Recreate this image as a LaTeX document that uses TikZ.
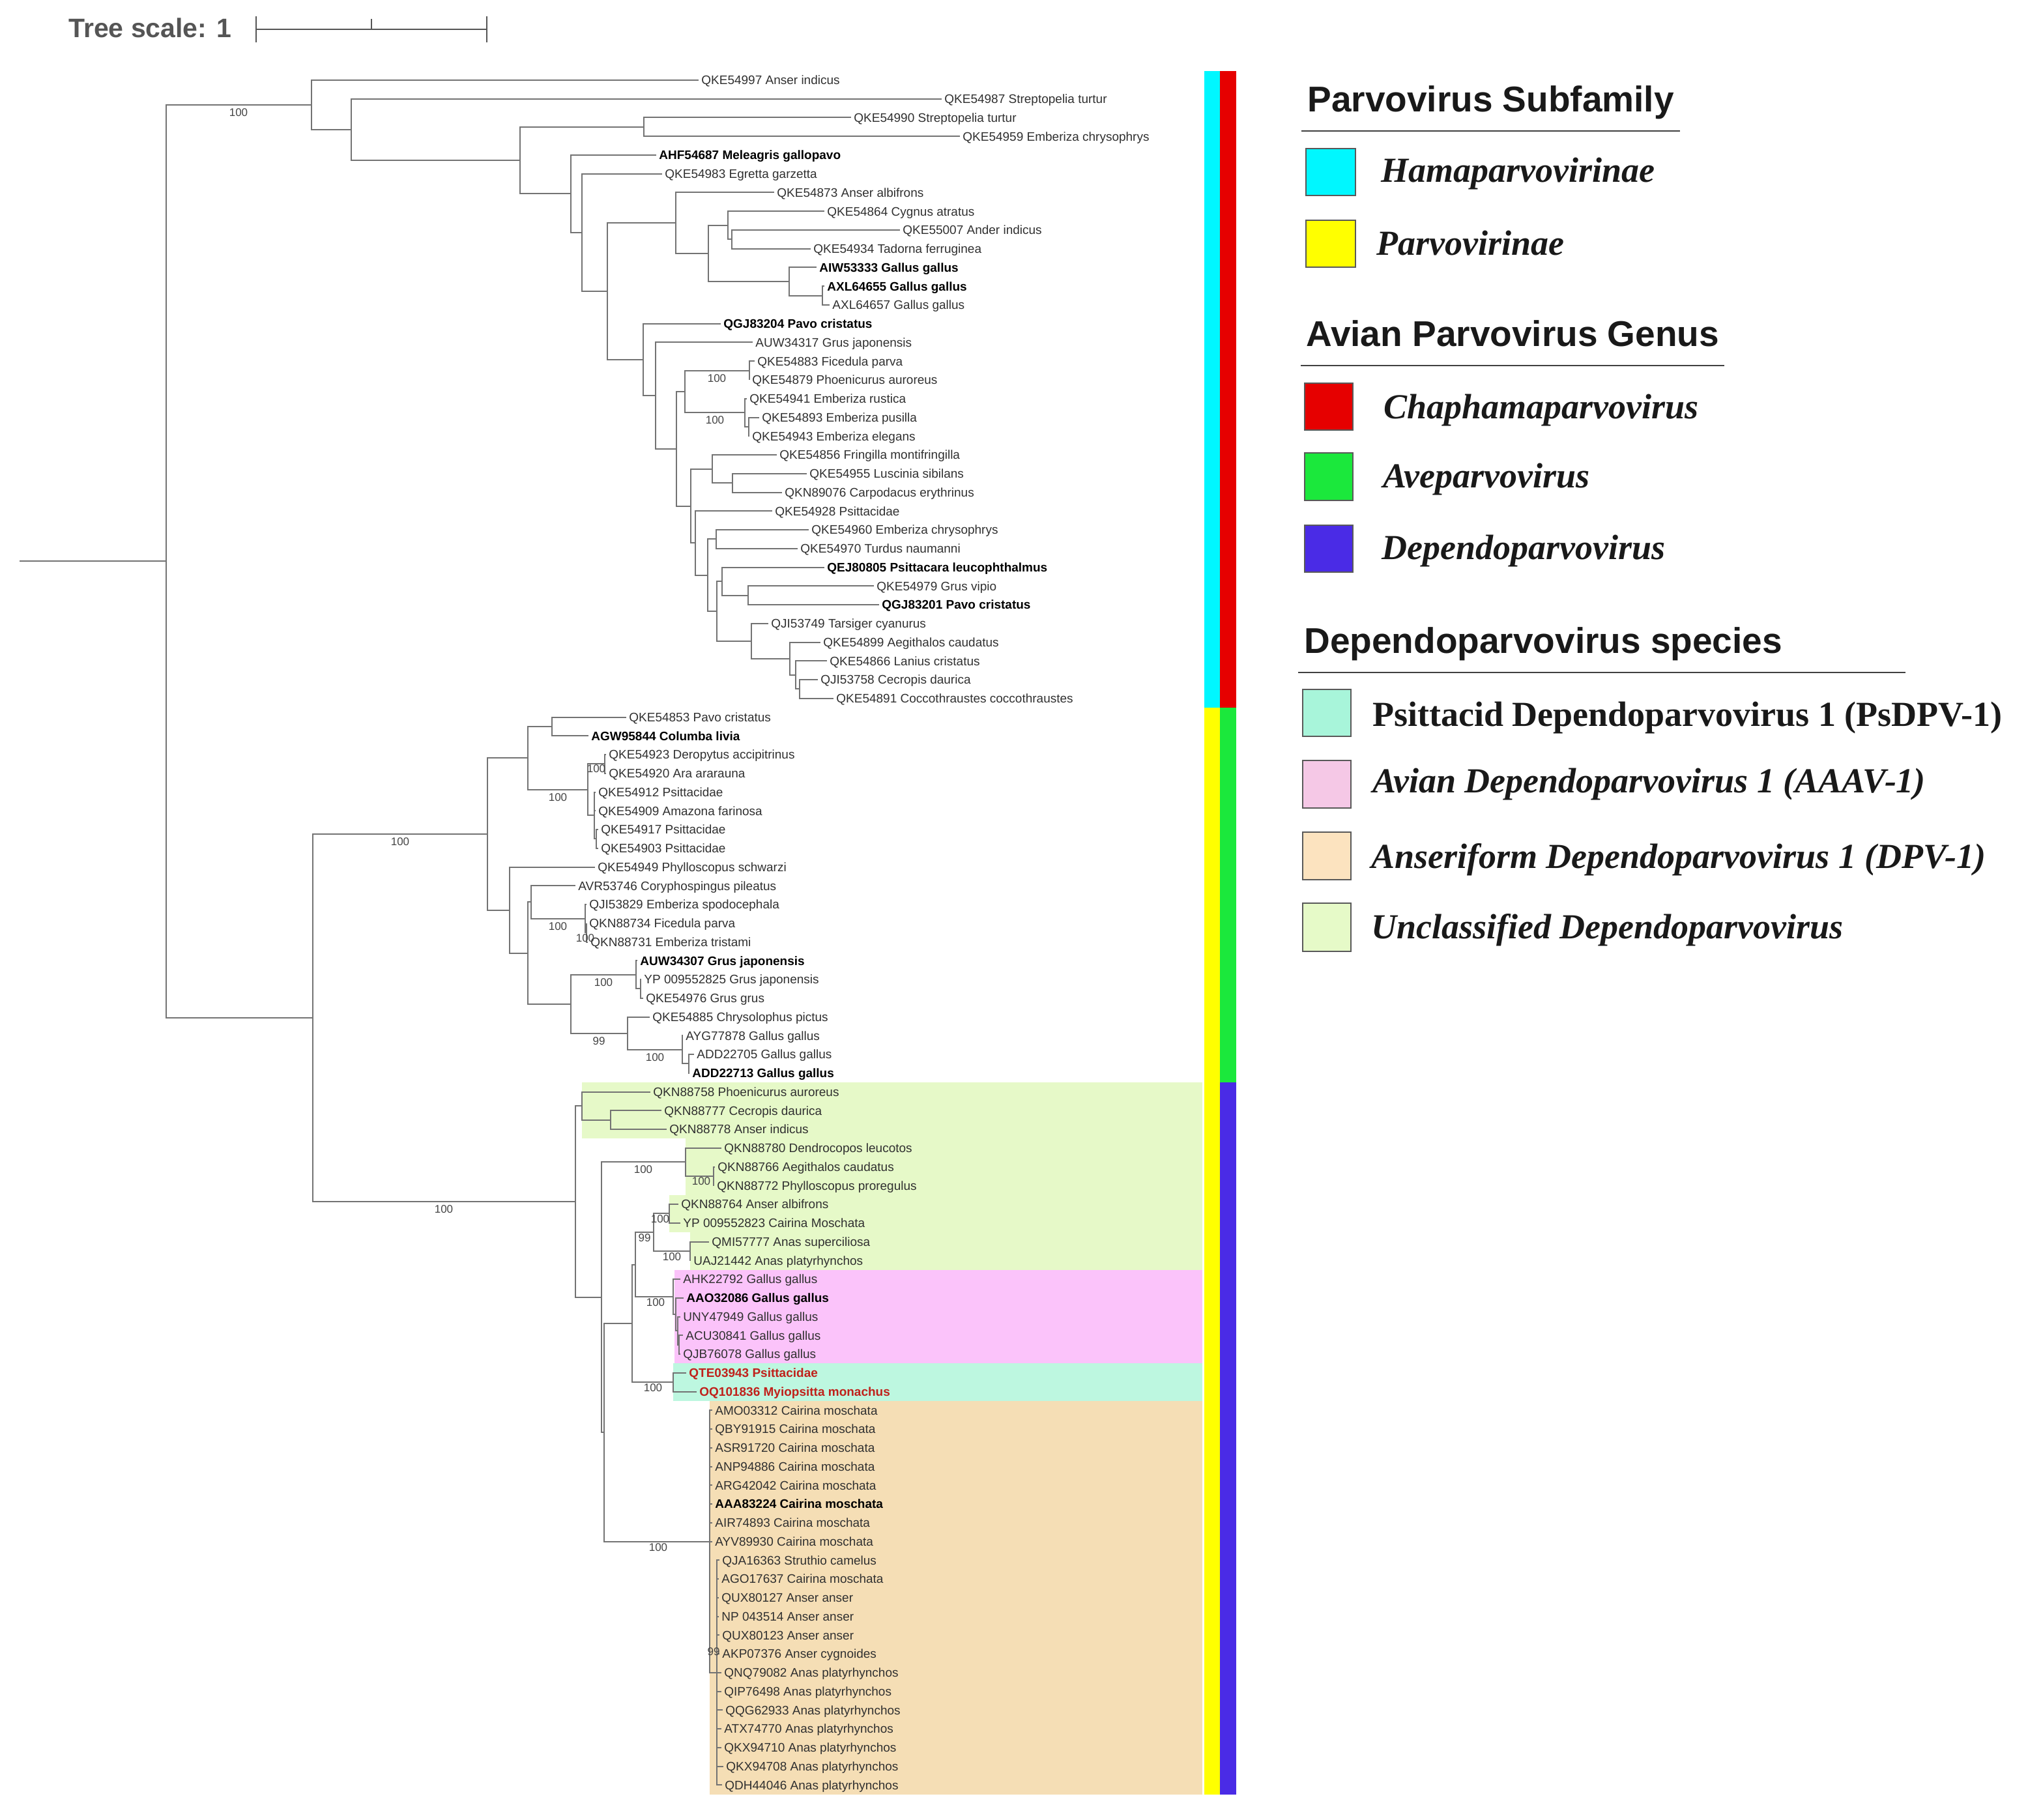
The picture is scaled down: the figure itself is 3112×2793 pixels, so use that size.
\documentclass[tikz,border=0pt]{standalone}
\usepackage{fontspec}
\setmainfont{Liberation Sans}
\newfontfamily\lserif{Liberation Serif}
\definecolor{tg}{HTML}{737373}
\definecolor{lt}{HTML}{303030}
\definecolor{bsc}{HTML}{444444}
\definecolor{redlab}{HTML}{C0211B}
\definecolor{scg}{HTML}{555555}
\definecolor{cCyan}{HTML}{00F7FF}
\definecolor{cYel}{HTML}{FFFF00}
\definecolor{cRed}{HTML}{E60000}
\definecolor{cGrn}{HTML}{1BE83C}
\definecolor{cBlu}{HTML}{4A2BE6}
\definecolor{bgLG}{HTML}{E6F9C8}
\definecolor{bgPk}{HTML}{FBC3FA}
\definecolor{bgAq}{HTML}{BDF7E0}
\definecolor{bgBe}{HTML}{F5DEB5}
\definecolor{lgAq}{HTML}{A8F5DA}
\definecolor{lgPk}{HTML}{F5C8E6}
\definecolor{lgBe}{HTML}{FCE3BF}
\definecolor{lgLG}{HTML}{E6FAC8}
\newcommand\mkleaf[3]{\coordinate (t#1) at (#2,{123+28.75*(#1-1)});
  \node[lf] (l#1) at ([shift={(4,6.8)}]t#1) {#3};}
\newcommand\edg[2]{\draw[br] (#1) -| (#2);}
\begin{document}
\begin{tikzpicture}[x=0.5pt,y=-0.5pt,
  br/.style={draw=tg,line width=1pt},
  lf/.style={anchor=base west,inner sep=0pt,text=lt,font=\fontsize{9.5}{10}\selectfont},
  bsl/.style={anchor=north,inner sep=0pt,text=bsc,font=\fontsize{8.5}{9}\selectfont},
  lgh/.style={anchor=base west,inner sep=0pt,text=black!90,font=\bfseries\fontsize{27.5}{30}\selectfont},
  lgi/.style={anchor=base west,inner sep=0pt,text=black!90,font=\lserif\bfseries\itshape\fontsize{27}{30}\selectfont},
  lgb/.style={draw=black!65,line width=1pt}]
\useasboundingbox (0,0) rectangle (3112,2793);
% ---------- backgrounds ----------
\fill[bgLG] (893,1661.125) rectangle (1845,1747.375);
\fill[bgLG] (1052,1747.375) rectangle (1845,1833.625);
\fill[bgLG] (1027,1833.625) rectangle (1845,1891.125);
\fill[bgLG] (1059,1891.125) rectangle (1845,1948.625);
\fill[bgPk] (1035,1948.625) rectangle (1845,2092.375);
\fill[bgAq] (1033,2092.375) rectangle (1845,2149.875);
\fill[bgBe] (1089,2149.875) rectangle (1845,2753.625);
% ---------- strips ----------
\fill[cCyan] (1848,108.625) rectangle (1872,1086.125);
\fill[cRed] (1872,108.625) rectangle (1897,1086.125);
\fill[cYel] (1848,1086.125) rectangle (1872,2753.625);
\fill[cGrn] (1872,1086.125) rectangle (1897,1661.125);
\fill[cBlu] (1872,1661.125) rectangle (1897,2753.625);
% ---------- tree scale ----------
\node[anchor=base west,inner sep=0pt,text=scg,font=\bfseries\fontsize{20.5}{22}\selectfont] (ts) at (105,58) {Tree scale: 1};
\coordinate (sb1) at (393,45); \coordinate (sb2) at (747,45); \coordinate (sbm) at (570,45);
\draw[scg,line width=1.3pt] (sb1) -- (sb2);
\draw[scg,line width=1.3pt] ([yshift=-10]sb1) -- ([yshift=10]sb1);
\draw[scg,line width=1.3pt] ([yshift=-10]sb2) -- ([yshift=10]sb2);
\draw[scg,line width=1.3pt] (sbm) -- ([yshift=8]sbm);
% ---------- leaves ----------
\mkleaf{1}{1072}{QKE54997 Anser indicus}
\mkleaf{2}{1445}{QKE54987 Streptopelia turtur}
\mkleaf{3}{1306}{QKE54990 Streptopelia turtur}
\mkleaf{4}{1473}{QKE54959 Emberiza chrysophrys}
\mkleaf{5}{1007}{\color{black}\bfseries AHF54687 Meleagris gallopavo}
\mkleaf{6}{1016}{QKE54983 Egretta garzetta}
\mkleaf{7}{1188}{QKE54873 Anser albifrons}
\mkleaf{8}{1265}{QKE54864 Cygnus atratus}
\mkleaf{9}{1381}{QKE55007 Ander indicus}
\mkleaf{10}{1244}{QKE54934 Tadorna ferruginea}
\mkleaf{11}{1253}{\color{black}\bfseries AIW53333 Gallus gallus}
\mkleaf{12}{1265}{\color{black}\bfseries AXL64655 Gallus gallus}
\mkleaf{13}{1273}{AXL64657 Gallus gallus}
\mkleaf{14}{1106}{\color{black}\bfseries QGJ83204 Pavo cristatus}
\mkleaf{15}{1155}{AUW34317 Grus japonensis}
\mkleaf{16}{1158}{QKE54883 Ficedula parva}
\mkleaf{17}{1150}{QKE54879 Phoenicurus auroreus}
\mkleaf{18}{1146}{QKE54941 Emberiza rustica}
\mkleaf{19}{1165}{QKE54893 Emberiza pusilla}
\mkleaf{20}{1150}{QKE54943 Emberiza elegans}
\mkleaf{21}{1192}{QKE54856 Fringilla montifringilla}
\mkleaf{22}{1238}{QKE54955 Luscinia sibilans}
\mkleaf{23}{1200}{QKN89076 Carpodacus erythrinus}
\mkleaf{24}{1185}{QKE54928 Psittacidae}
\mkleaf{25}{1241}{QKE54960 Emberiza chrysophrys}
\mkleaf{26}{1224}{QKE54970 Turdus naumanni}
\mkleaf{27}{1265}{\color{black}\bfseries QEJ80805 Psittacara leucophthalmus}
\mkleaf{28}{1341}{QKE54979 Grus vipio}
\mkleaf{29}{1349}{\color{black}\bfseries QGJ83201 Pavo cristatus}
\mkleaf{30}{1179}{QJI53749 Tarsiger cyanurus}
\mkleaf{31}{1259}{QKE54899 Aegithalos caudatus}
\mkleaf{32}{1269}{QKE54866 Lanius cristatus}
\mkleaf{33}{1255}{QJI53758 Cecropis daurica}
\mkleaf{34}{1279}{QKE54891 Coccothraustes coccothraustes}
\mkleaf{35}{961}{QKE54853 Pavo cristatus}
\mkleaf{36}{903}{\color{black}\bfseries AGW95844 Columba livia}
\mkleaf{37}{930}{QKE54923 Deropytus accipitrinus}
\mkleaf{38}{930}{QKE54920 Ara ararauna}
\mkleaf{39}{914}{QKE54912 Psittacidae}
\mkleaf{40}{914}{QKE54909 Amazona farinosa}
\mkleaf{41}{918}{QKE54917 Psittacidae}
\mkleaf{42}{918}{QKE54903 Psittacidae}
\mkleaf{43}{913}{QKE54949 Phylloscopus schwarzi}
\mkleaf{44}{883}{AVR53746 Coryphospingus pileatus}
\mkleaf{45}{900}{QJI53829 Emberiza spodocephala}
\mkleaf{46}{900}{QKN88734 Ficedula parva}
\mkleaf{47}{902}{QKN88731 Emberiza tristami}
\mkleaf{48}{978}{\color{black}\bfseries AUW34307 Grus japonensis}
\mkleaf{49}{984}{YP 009552825 Grus japonensis}
\mkleaf{50}{987}{QKE54976 Grus grus}
\mkleaf{51}{997}{QKE54885 Chrysolophus pictus}
\mkleaf{52}{1048}{AYG77878 Gallus gallus}
\mkleaf{53}{1065}{ADD22705 Gallus gallus}
\mkleaf{54}{1058}{\color{black}\bfseries ADD22713 Gallus gallus}
\mkleaf{55}{998}{QKN88758 Phoenicurus auroreus}
\mkleaf{56}{1015}{QKN88777 Cecropis daurica}
\mkleaf{57}{1023}{QKN88778 Anser indicus}
\mkleaf{58}{1107}{QKN88780 Dendrocopos leucotos}
\mkleaf{59}{1097}{QKN88766 Aegithalos caudatus}
\mkleaf{60}{1096}{QKN88772 Phylloscopus proregulus}
\mkleaf{61}{1041}{QKN88764 Anser albifrons}
\mkleaf{62}{1044}{YP 009552823 Cairina Moschata}
\mkleaf{63}{1088}{QMI57777 Anas superciliosa}
\mkleaf{64}{1060}{UAJ21442 Anas platyrhynchos}
\mkleaf{65}{1044}{AHK22792 Gallus gallus}
\mkleaf{66}{1049}{\color{black}\bfseries AAO32086 Gallus gallus}
\mkleaf{67}{1044}{UNY47949 Gallus gallus}
\mkleaf{68}{1048}{ACU30841 Gallus gallus}
\mkleaf{69}{1044}{QJB76078 Gallus gallus}
\mkleaf{70}{1053}{\color{redlab}\bfseries QTE03943 Psittacidae}
\mkleaf{71}{1069}{\color{redlab}\bfseries OQ101836 Myiopsitta monachus}
\mkleaf{72}{1093}{AMO03312 Cairina moschata}
\mkleaf{73}{1093}{QBY91915 Cairina moschata}
\mkleaf{74}{1093}{ASR91720 Cairina moschata}
\mkleaf{75}{1093}{ANP94886 Cairina moschata}
\mkleaf{76}{1093}{ARG42042 Cairina moschata}
\mkleaf{77}{1093}{\color{black}\bfseries AAA83224 Cairina moschata}
\mkleaf{78}{1093}{AIR74893 Cairina moschata}
\mkleaf{79}{1093}{AYV89930 Cairina moschata}
\mkleaf{80}{1104}{QJA16363 Struthio camelus}
\mkleaf{81}{1103}{AGO17637 Cairina moschata}
\mkleaf{82}{1103}{QUX80127 Anser anser}
\mkleaf{83}{1103}{NP 043514 Anser anser}
\mkleaf{84}{1104}{QUX80123 Anser anser}
\mkleaf{85}{1104}{AKP07376 Anser cygnoides}
\mkleaf{86}{1107}{QNQ79082 Anas platyrhynchos}
\mkleaf{87}{1107}{QIP76498 Anas platyrhynchos}
\mkleaf{88}{1109}{QQG62933 Anas platyrhynchos}
\mkleaf{89}{1107}{ATX74770 Anas platyrhynchos}
\mkleaf{90}{1107}{QKX94710 Anas platyrhynchos}
\mkleaf{91}{1110}{QKX94708 Anas platyrhynchos}
\mkleaf{92}{1108}{QDH44046 Anas platyrhynchos}
% ---------- internal nodes ----------
\coordinate (nM) at (1262,453.625);
\coordinate (nL) at (1211,432.06);
\coordinate (nK) at (1123,367.375);
\coordinate (nJ) at (1117,345.81);
\coordinate (nI) at (1087,388.94);
\coordinate (nH) at (1037,342.22);
\coordinate (nR) at (1150,568.625);
\coordinate (nS2) at (1149,654.875);
\coordinate (nS) at (1143,633.31);
\coordinate (nQ) at (1051,600.97);
\coordinate (nV) at (1124,741.125);
\coordinate (nU) at (1093,719.56);
\coordinate (nY1) at (1099,827.375);
\coordinate (nZ2) at (1148,913.625);
\coordinate (nZ1) at (1108,892.06);
\coordinate (nZ6) at (1227,1057.375);
\coordinate (nZ5) at (1221,1035.81);
\coordinate (nZ4) at (1212,1010.66);
\coordinate (nZ3) at (1153,983.70);
\coordinate (nZ) at (1100,937.88);
\coordinate (nX1) at (1086,882.63);
\coordinate (nW) at (1067,833.44);
\coordinate (nT) at (1060,776.5);
\coordinate (nP) at (1038,688.73);
\coordinate (nO) at (1006,607.12);
\coordinate (nN) at (987,551.93);
\coordinate (nG) at (932,447.07);
\coordinate (nF) at (893,356.91);
\coordinate (nE) at (876,297.46);
\coordinate (nD) at (988,194.875);
\coordinate (nC) at (798,246.17);
\coordinate (nB) at (539,198.96);
\coordinate (nA) at (477.5,160.98);
\coordinate (nDD) at (847,1114.875);
\coordinate (nFF) at (928,1172.375);
\coordinate (nHH) at (915,1287.375);
\coordinate (nGG) at (912,1251.44);
\coordinate (nEE) at (902,1211.91);
\coordinate (nCC) at (810,1163.39);
\coordinate (nLL2) at (900,1431.125);
\coordinate (nLL) at (898,1409.56);
\coordinate (nKK) at (815,1384.41);
\coordinate (nNN2) at (983,1517.375);
\coordinate (nNN) at (976,1495.81);
\coordinate (nPP2) at (1057,1632.375);
\coordinate (nPP) at (1047,1610.81);
\coordinate (nOO) at (963,1585.66);
\coordinate (nMM) at (876,1540.73);
\coordinate (nJJ) at (810,1462.57);
\coordinate (nII) at (782,1396.54);
\coordinate (nBB) at (748,1279.96);
\coordinate (nSS) at (937,1718.625);
\coordinate (nRR) at (893,1697.06);
\coordinate (nAB2) at (1095,1804.875);
\coordinate (nAB) at (1052,1783.31);
\coordinate (nXX) at (1027,1862.375);
\coordinate (nYY) at (1059,1919.875);
\coordinate (nWW) at (1003,1891.125);
\coordinate (nZZ4) at (1042,2063.625);
\coordinate (nZZ3) at (1040,2042.06);
\coordinate (nZZ2) at (1037,2016.91);
\coordinate (nZZ) at (1033,1989.95);
\coordinate (nVV) at (975,1940.54);
\coordinate (nQT) at (1033,2121.125);
\coordinate (nUU) at (970,2030.83);
\coordinate (nBF) at (1100,2566.75);
\coordinate (nBE) at (1089,2365.5);
\coordinate (nU2) at (927,2198.17);
\coordinate (nTT) at (923,1990.74);
\coordinate (nQQ) at (883,1843.9);
\coordinate (nAA) at (480,1561.93);
\coordinate (nRoot) at (254.5,861.46);
\coordinate (r0) at (30,861.46);
% ---------- branches ----------
\draw[br] (r0) -- (nRoot);
\edg{nA}{nRoot} \edg{nAA}{nRoot}
\edg{t1}{nA} \edg{nB}{nA}
\edg{t2}{nB} \edg{nC}{nB}
\edg{nD}{nC} \edg{nE}{nC}
\edg{t3}{nD} \edg{t4}{nD}
\edg{t5}{nE} \edg{nF}{nE}
\edg{t6}{nF} \edg{nG}{nF}
\edg{nH}{nG} \edg{nN}{nG}
\edg{t7}{nH} \edg{nI}{nH}
\edg{nJ}{nI} \edg{nL}{nI}
\edg{t8}{nJ} \edg{nK}{nJ}
\edg{t9}{nK} \edg{t10}{nK}
\edg{t11}{nL} \edg{nM}{nL}
\edg{t12}{nM} \edg{t13}{nM}
\edg{t14}{nN} \edg{nO}{nN}
\edg{t15}{nO} \edg{nP}{nO}
\edg{nQ}{nP} \edg{nT}{nP}
\edg{nR}{nQ} \edg{nS}{nQ}
\edg{t16}{nR} \edg{t17}{nR}
\edg{t18}{nS} \edg{nS2}{nS}
\edg{t19}{nS2} \edg{t20}{nS2}
\edg{nU}{nT} \edg{nW}{nT}
\edg{t21}{nU} \edg{nV}{nU}
\edg{t22}{nV} \edg{t23}{nV}
\edg{t24}{nW} \edg{nX1}{nW}
\edg{nY1}{nX1} \edg{nZ}{nX1}
\edg{t25}{nY1} \edg{t26}{nY1}
\edg{nZ1}{nZ} \edg{nZ3}{nZ}
\edg{t27}{nZ1} \edg{nZ2}{nZ1}
\edg{t28}{nZ2} \edg{t29}{nZ2}
\edg{t30}{nZ3} \edg{nZ4}{nZ3}
\edg{t31}{nZ4} \edg{nZ5}{nZ4}
\edg{t32}{nZ5} \edg{nZ6}{nZ5}
\edg{t33}{nZ6} \edg{t34}{nZ6}
\edg{nBB}{nAA} \edg{nQQ}{nAA}
\edg{nCC}{nBB} \edg{nII}{nBB}
\edg{nDD}{nCC} \edg{nEE}{nCC}
\edg{t35}{nDD} \edg{t36}{nDD}
\edg{nFF}{nEE} \edg{nGG}{nEE}
\edg{t37}{nFF} \edg{t38}{nFF}
\edg{t39}{nGG} \edg{t40}{nGG} \edg{nHH}{nGG}
\edg{t41}{nHH} \edg{t42}{nHH}
\edg{t43}{nII} \edg{nJJ}{nII}
\edg{nKK}{nJJ} \edg{nMM}{nJJ}
\edg{t44}{nKK} \edg{nLL}{nKK}
\edg{t45}{nLL} \edg{nLL2}{nLL}
\edg{t46}{nLL2} \edg{t47}{nLL2}
\edg{nNN}{nMM} \edg{nOO}{nMM}
\edg{t48}{nNN} \edg{nNN2}{nNN}
\edg{t49}{nNN2} \edg{t50}{nNN2}
\edg{t51}{nOO} \edg{nPP}{nOO}
\edg{t52}{nPP} \edg{nPP2}{nPP}
\edg{t53}{nPP2} \edg{t54}{nPP2}
\edg{nRR}{nQQ} \edg{nTT}{nQQ}
\edg{t55}{nRR} \edg{nSS}{nRR}
\edg{t56}{nSS} \edg{t57}{nSS}
\edg{nAB}{nTT} \edg{nU2}{nTT}
\edg{t58}{nAB} \edg{nAB2}{nAB}
\edg{t59}{nAB2} \edg{t60}{nAB2}
\edg{nUU}{nU2} \edg{nBE}{nU2}
\edg{nVV}{nUU} \edg{nQT}{nUU}
\edg{nWW}{nVV} \edg{nZZ}{nVV}
\edg{nXX}{nWW} \edg{nYY}{nWW}
\edg{t61}{nXX} \edg{t62}{nXX}
\edg{t63}{nYY} \edg{t64}{nYY}
\edg{t65}{nZZ} \edg{nZZ2}{nZZ}
\edg{t66}{nZZ2} \edg{nZZ3}{nZZ2}
\edg{t67}{nZZ3} \edg{nZZ4}{nZZ3}
\edg{t68}{nZZ4} \edg{t69}{nZZ4}
\edg{t70}{nQT} \edg{t71}{nQT}
\edg{t72}{nBE} \edg{t73}{nBE} \edg{t74}{nBE} \edg{t75}{nBE}
\edg{t76}{nBE} \edg{t77}{nBE} \edg{t78}{nBE} \edg{t79}{nBE} \edg{nBF}{nBE}
\edg{t80}{nBF} \edg{t81}{nBF} \edg{t82}{nBF} \edg{t83}{nBF} \edg{t84}{nBF}
\edg{t85}{nBF} \edg{t86}{nBF} \edg{t87}{nBF} \edg{t88}{nBF} \edg{t89}{nBF}
\edg{t90}{nBF} \edg{t91}{nBF} \edg{t92}{nBF}
% ---------- bootstrap values ----------
\node[bsl] (bA) at (366,166) {100};
\node[bsl] (bBB) at (614,1285) {100};
\node[bsl] (bQQ) at (681,1849) {100};
\node[bsl] (bR) at (1100,574) {100};
\node[bsl] (bS) at (1097,638) {100};
\node[bsl] (bEE) at (856,1217) {100};
\node[bsl] (bFF) at (915,1173) {100};
\node[bsl] (bLL) at (856,1415) {100};
\node[bsl] (bLL2) at (898,1433) {100};
\node[bsl] (bNN) at (926,1501) {100};
\node[bsl] (bOO) at (919,1591) {99};
\node[bsl] (bPP) at (1005,1616) {100};
\node[bsl] (bAB) at (987,1788) {100};
\node[bsl] (bAB2) at (1076,1806) {100};
\node[bsl] (bXX) at (1013,1864) {100};
\node[bsl] (bWW) at (989,1893) {99};
\node[bsl] (bYY) at (1031,1922) {100};
\node[bsl] (bZZ) at (1006,1992) {100};
\node[bsl] (bQT) at (1002,2123) {100};
\node[bsl] (bBE) at (1010,2368) {100};
\node[bsl] (bBF) at (1095,2528) {99};
% ---------- legend ----------
\node[lgh] (h1) at (2006,172) {Parvovirus Subfamily};
\draw[black!75,line width=1pt] (1997,201) -- (2578,201);
\draw[lgb,fill=cCyan] (2004,228) rectangle (2080,300);
\node[lgi] (g1) at (2119,280) {Hamaparvovirinae};
\draw[lgb,fill=cYel] (2004,338) rectangle (2080,410);
\node[lgi] (g2) at (2112,392) {Parvovirinae};
\node[lgh] (h2) at (2004,531) {Avian Parvovirus Genus};
\draw[black!75,line width=1pt] (1996,561) -- (2646,561);
\draw[lgb,fill=cRed] (2002,588) rectangle (2076,660);
\node[lgi] (g3) at (2123,642) {Chaphamaparvovirus};
\draw[lgb,fill=cGrn] (2002,695) rectangle (2076,768);
\node[lgi] (g4) at (2122,748) {Aveparvovirus};
\draw[lgb,fill=cBlu] (2002,806) rectangle (2076,878);
\node[lgi] (g5) at (2120,858) {Dependoparvovirus};
\node[lgh] (h3) at (2001,1002) {Dependoparvovirus species};
\draw[black!75,line width=1pt] (1992,1032) -- (2924,1032);
\draw[lgb,fill=lgAq] (1999,1058) rectangle (2073,1130);
\node[lgi,font=\lserif\bfseries\fontsize{27}{30}\selectfont] (g6) at (2106,1114) {Psittacid Dependoparvovirus 1 (PsDPV-1)};
\draw[lgb,fill=lgPk] (1999,1167) rectangle (2073,1240);
\node[lgi] (g7) at (2106,1216) {Avian Dependoparvovirus 1 (AAAV-1)};
\draw[lgb,fill=lgBe] (1999,1277) rectangle (2073,1350);
\node[lgi] (g8) at (2104,1332) {Anseriform Dependoparvovirus 1 (DPV-1)};
\draw[lgb,fill=lgLG] (1999,1386) rectangle (2073,1460);
\node[lgi] (g9) at (2104,1440) {Unclassified Dependoparvovirus};
\end{tikzpicture}
\end{document}
